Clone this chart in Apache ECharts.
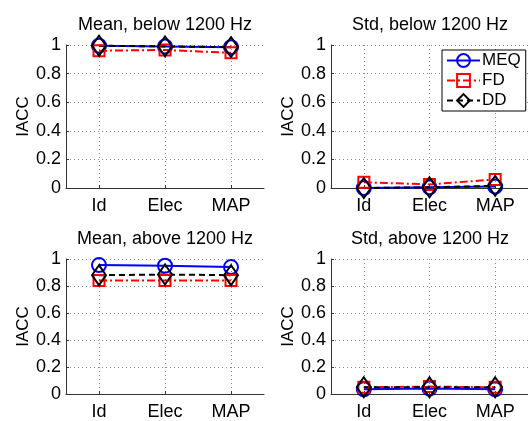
<!DOCTYPE html>
<html>
<head>
<meta charset="utf-8">
<script src="https://cdn.jsdelivr.net/npm/echarts@6/dist/echarts.min.js"></script>
<style>
  html, body { margin: 0; padding: 0; background: #fff; }
  #chart { width: 528px; height: 421px; }
</style>
</head>
<body>
<div id="chart"></div>
<script>
// categories and tick labels
const categories = ['Id', 'Elec', 'MAP'];
const yTicks = [0, 0.2, 0.4, 0.6, 0.8, 1];

// Mean, below 1200 Hz
const meanBelowMEQ = [0.995, 0.99, 0.985];
const meanBelowFD = [0.96, 0.965, 0.945];
const meanBelowDD = [0.995, 0.99, 0.985];
// Std, below 1200 Hz
const stdBelowMEQ = [0.0, 0.005, 0.01];
const stdBelowFD = [0.04, 0.025, 0.06];
const stdBelowDD = [0.0, 0.005, 0.015];
// Mean, above 1200 Hz
const meanAboveMEQ = [0.955, 0.95, 0.94];
const meanAboveFD = [0.84, 0.84, 0.84];
const meanAboveDD = [0.88, 0.885, 0.88];
// Std, above 1200 Hz
const stdAboveMEQ = [0.035, 0.04, 0.035];
const stdAboveFD = [0.05, 0.055, 0.05];
const stdAboveDD = [0.05, 0.05, 0.05];

const titles = ['Mean, below 1200 Hz', 'Std, below 1200 Hz', 'Mean, above 1200 Hz', 'Std, above 1200 Hz'];
const panels = [
  [meanBelowMEQ, meanBelowFD, meanBelowDD],
  [stdBelowMEQ, stdBelowFD, stdBelowDD],
  [meanAboveMEQ, meanAboveFD, meanAboveDD],
  [stdAboveMEQ, stdAboveFD, stdAboveDD]
];

const FONT = 'Liberation Sans, Arial, Helvetica, sans-serif';

// plot boxes (left, top)
const boxes = [
  { left: 66, top: 45 },
  { left: 331, top: 45 },
  { left: 66, top: 259 },
  { left: 331, top: 259 }
];
const W = 198, H = 143;

const styles = [
  { name: 'MEQ', color: '#0000ff', symbol: 'circle', size: 14, type: 'solid' },
  { name: 'FD', color: '#ff0000', symbol: 'rect', size: 11, type: [8, 3, 2, 3] },
  { name: 'DD', color: '#000000', symbol: 'diamond', size: [14, 20], type: [6, 4] }
];

const grid = boxes.map(b => ({ left: b.left, top: b.top, width: W, height: H }));

const title = boxes.map((b, i) => ({
  text: titles[i],
  left: b.left + W / 2,
  top: b.top - 29,
  textAlign: 'center',
  padding: 0,
  textStyle: { fontFamily: FONT, fontSize: 18, fontWeight: 'normal', color: '#000' }
}));

const xAxis = boxes.map((b, i) => ({
  type: 'category',
  gridIndex: i,
  data: categories,
  boundaryGap: true,
  axisLine: { show: true, lineStyle: { color: '#333', width: 1 } },
  axisTick: { show: true, inside: true, alignWithLabel: true, length: 3, lineStyle: { color: '#333' } },
  axisLabel: { fontFamily: FONT, fontSize: 18, color: '#000', margin: 9 },
  splitLine: { show: true, alignWithLabel: true, lineStyle: { color: '#888', type: [1, 3], width: 1 } }
}));

const yAxis = boxes.map((b, i) => ({
  type: 'value',
  gridIndex: i,
  min: 0,
  max: 1,
  interval: 0.2,
  name: 'IACC',
  nameLocation: 'middle',
  nameGap: 34,
  nameTextStyle: { fontFamily: FONT, fontSize: 17, color: '#000' },
  axisLine: { show: true, lineStyle: { color: '#333', width: 1 } },
  axisTick: { show: true, inside: true, length: 3, lineStyle: { color: '#333' } },
  axisLabel: { fontFamily: FONT, fontSize: 18, color: '#000', margin: 5 },
  splitLine: { show: true, lineStyle: { color: '#888', type: [1, 3], width: 1 } }
}));

const series = [];
panels.forEach((vals, i) => {
  styles.forEach((s, k) => {
    series.push({
      name: s.name,
      type: 'line',
      xAxisIndex: i,
      yAxisIndex: i,
      data: vals[k],
      symbol: s.symbol,
      symbolSize: s.size,
      showAllSymbol: true,
      clip: false,
      lineStyle: { color: s.color, width: 2, type: s.type },
      itemStyle: { color: 'rgba(0,0,0,0)', borderColor: s.color, borderWidth: 2 },
      emphasis: { disabled: true },
      animation: false
    });
  });
});

const chart = echarts.init(document.getElementById('chart'), null, { renderer: 'canvas' });
chart.setOption({
  animation: false,
  backgroundColor: '#fff',
  title: title,
  grid: grid,
  xAxis: xAxis,
  yAxis: yAxis,
  legend: {
    data: styles.map(s => s.name),
    orient: 'vertical',
    left: 442,
    top: 50,
    padding: [2, 5, 2, 4],
    itemWidth: 33,
    itemHeight: 16,
    itemGap: 3,
    backgroundColor: '#fff',
    borderColor: '#000',
    borderWidth: 1,
    borderRadius: 0,
    textStyle: { fontFamily: FONT, fontSize: 17, color: '#000', padding: [0, 0, 0, -3] }
  },
  series: series
});
</script>
</body>
</html>
